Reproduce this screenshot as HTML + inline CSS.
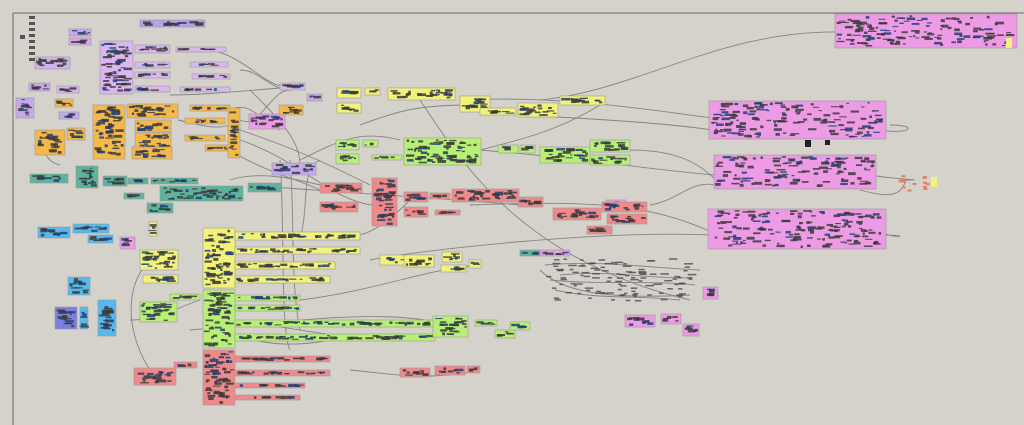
<!DOCTYPE html>
<html><head><meta charset="utf-8"><style>
html,body{margin:0;padding:0;background:#d5d1cb;width:1024px;height:425px;overflow:hidden}
svg{display:block}
</style></head><body>
<svg id="s" width="1024" height="425" viewBox="0 0 1024 425" xmlns="http://www.w3.org/2000/svg">
<rect width="1024" height="425" fill="#d5d1cb"/>
<line x1="13" y1="13" x2="1024" y2="13" stroke="#6a6a6a" stroke-width="1"/>
<line x1="13" y1="13" x2="13" y2="425" stroke="#6a6a6a" stroke-width="1"/>
<g id="wires" fill="none" stroke="#777" stroke-width="0.9" opacity="0.85">
<path d="M540,100 C640,90 720,30 840,32"/>
<path d="M460,100 C560,95 650,110 712,118"/>
<path d="M520,115 C620,120 680,125 712,130"/>
<path d="M480,150 C600,160 650,170 716,175"/>
<path d="M630,150 C680,150 700,165 716,180"/>
<path d="M470,205 C600,200 650,205 712,232"/>
<path d="M650,205 C680,200 690,180 716,185"/>
<path d="M860,190 C880,195 900,200 905,182"/>
<path d="M870,175 C900,180 930,180 905,180"/>
<path d="M420,100 C460,160 520,260 690,300"/>
<path d="M290,160 C295,220 290,280 300,330"/>
<path d="M280,160 C285,220 280,330 290,350"/>
<path d="M240,120 C260,130 270,90 290,90"/>
<path d="M240,70 C260,70 270,90 290,90"/>
<path d="M190,330 C300,320 380,310 435,322"/>
<path d="M370,260 C420,250 600,230 712,235"/>
<path d="M250,185 C300,190 400,195 520,205"/>
<path d="M320,185 C300,180 260,170 230,180"/>
<path d="M130,320 C160,320 170,310 200,300"/>
<path d="M150,260 C120,290 130,340 150,370"/>
<path d="M360,125 C400,110 420,105 470,105"/>
<path d="M300,160 C340,140 360,130 400,140"/>
<path d="M890,125 C920,125 910,135 880,130"/>
<path d="M885,235 C910,235 900,240 880,232"/>
<path d="M540,270 C560,290 600,300 690,295"/>
<path d="M545,265 C600,260 650,268 700,270"/>
<path d="M550,280 C600,285 650,280 695,285"/>
<path d="M555,290 C600,300 640,295 680,300"/>
<path d="M560,275 C610,270 640,278 690,278"/>
<path d="M350,370 C400,375 420,380 470,372"/>
<path d="M230,110 C250,100 260,120 280,130"/>
<path d="M220,330 C250,340 280,350 330,340"/>
<path d="M240,130 C300,150 340,170 370,185"/>
<path d="M240,140 C300,160 330,200 372,205"/>
<path d="M230,150 C260,170 300,180 320,190"/>
<path d="M178,120 C200,125 215,130 230,125"/>
<path d="M170,95 C200,95 230,92 280,88"/>
<path d="M210,50 C240,55 260,80 280,86"/>
<path d="M60,130 C40,140 40,160 60,165"/>
<path d="M300,240 C310,200 300,170 320,160"/>
<path d="M360,235 C380,230 400,210 410,200"/>
<path d="M300,300 C380,290 420,270 480,265"/>
<path d="M235,320 C300,330 360,340 380,340"/>
<path d="M250,90 C280,120 300,140 300,165"/>
<path d="M480,150 C520,140 560,130 600,105"/>
</g>
<g id="grp"></g>
</svg>
<script>
var G=[
[835,14,182,34,'#ee9be6'],[709,101,177,38,'#ee9be6'],[714,155,162,34,'#ee9be6'],[708,209,178,40,'#ee9be6'],
[249,114,36,15,'#ee9be6'],[120,237,15,12,'#ee9be6'],[703,287,15,12,'#ee9be6'],[625,315,30,12,'#ee9be6'],[661,314,20,10,'#ee9be6'],[683,324,16,12,'#ee9be6'],[606,200,20,12,'#ee9be6'],
[140,20,65,7,'#b7a0e8'],[69,29,22,7,'#c8a8ec'],[69,38,22,7,'#e0a2e8'],[100,41,33,53,'#dcb7ef'],[135,45,35,8,'#dcb7ef'],[135,62,35,6,'#dcb7ef'],[135,72,35,6,'#dcb7ef'],[135,86,35,6,'#dcb7ef'],
[35,57,35,12,'#d3b2ec'],[29,83,21,8,'#c8a8ec'],[57,86,22,7,'#dcb7ef'],[16,98,18,20,'#c8a8ec'],[59,112,20,7,'#c8a8ec'],[280,83,25,7,'#dcb7ef'],[307,94,15,7,'#c8a8ec'],[272,163,44,12,'#c8a8ec'],[176,47,50,5,'#dcb7ef'],[190,62,38,5,'#dcb7ef'],[192,74,38,5,'#dcb7ef'],[180,87,50,5,'#dcb7ef'],
[93,105,32,54,'#f4b94a'],[127,104,51,14,'#f4b94a'],[135,120,36,12,'#f4b94a'],[135,133,36,17,'#f4b94a'],[132,147,40,12,'#f4b94a'],[190,105,40,6,'#f4b94a'],[185,118,40,6,'#f4b94a'],[185,135,40,6,'#f4b94a'],[205,145,30,6,'#f4b94a'],[228,108,12,50,'#f4b94a'],[35,130,30,25,'#f4b94a'],[67,128,18,12,'#f4b94a'],[279,105,24,10,'#f4b94a'],[55,99,18,8,'#f4b94a'],
[30,174,38,9,'#5db39b'],[76,166,22,22,'#5db39b'],[103,176,24,10,'#5db39b'],[128,178,20,6,'#5db39b'],[151,178,18,6,'#5db39b'],[168,178,30,6,'#5db39b'],[160,186,83,15,'#5db39b'],[147,203,26,10,'#5db39b'],[248,183,33,9,'#5db39b'],[124,193,20,6,'#5db39b'],
[38,227,32,11,'#55b8ef'],[73,224,36,9,'#55b8ef'],[88,235,25,8,'#55b8ef'],[68,277,22,18,'#55b8ef'],[55,307,22,22,'#7b7fe0'],[80,307,8,22,'#55b8ef'],[98,300,18,36,'#55b8ef'],
[203,228,32,60,'#f2f27a'],[235,232,125,8,'#f2f27a'],[235,247,125,7,'#f2f27a'],[235,262,100,7,'#f2f27a'],[235,276,95,7,'#f2f27a'],[140,250,38,20,'#f2f27a'],[143,275,35,8,'#f2f27a'],[380,255,50,10,'#f2f27a'],[404,255,30,12,'#f2f27a'],[442,252,20,10,'#f2f27a'],[441,265,25,7,'#f2f27a'],[469,260,12,8,'#f2f27a'],[149,222,8,14,'#f2f27a'],
[337,88,24,10,'#f2f27a'],[337,103,24,10,'#f2f27a'],[388,88,67,12,'#f2f27a'],[365,88,15,7,'#f2f27a'],[460,96,30,16,'#f2f27a'],[518,103,40,14,'#f2f27a'],[560,96,45,9,'#f2f27a'],[480,108,36,7,'#f2f27a'],
[203,290,32,58,'#b8f075'],[235,295,65,6,'#b8f075'],[235,305,65,6,'#b8f075'],[235,320,200,7,'#b8f075'],[235,334,200,7,'#b8f075'],[140,302,37,20,'#b8f075'],[170,294,30,6,'#b8f075'],[433,316,35,21,'#b8f075'],[475,320,22,6,'#b8f075'],[495,330,20,8,'#b8f075'],[510,322,20,8,'#b8f075'],
[336,140,23,10,'#b8f075'],[336,154,23,10,'#b8f075'],[404,138,77,27,'#b8f075'],[363,140,15,7,'#b8f075'],[372,155,30,5,'#b8f075'],[498,145,20,8,'#b8f075'],[520,145,15,8,'#b8f075'],[540,147,50,16,'#b8f075'],[590,140,40,12,'#b8f075'],[590,155,40,10,'#b8f075'],
[203,350,32,55,'#f08a8a'],[235,356,95,6,'#f08a8a'],[235,370,95,6,'#f08a8a'],[235,383,70,5,'#f08a8a'],[235,395,65,5,'#f08a8a'],[134,368,42,17,'#f08a8a'],[174,362,23,6,'#f08a8a'],[400,368,30,9,'#f08a8a'],[435,366,30,9,'#f08a8a'],[467,366,13,7,'#f08a8a'],
[320,183,42,10,'#f08a8a'],[320,202,38,10,'#f08a8a'],[372,178,25,48,'#f08a8a'],[404,192,24,10,'#f08a8a'],[404,207,24,10,'#f08a8a'],[430,193,20,6,'#f08a8a'],[452,189,67,13,'#f08a8a'],[435,210,25,5,'#f08a8a'],[518,197,25,10,'#f08a8a'],[553,208,48,12,'#f08a8a'],[602,202,45,10,'#f08a8a'],[607,214,40,10,'#f08a8a'],[587,226,25,8,'#f08a8a'],
[520,250,20,6,'#5db39b'],[540,250,30,6,'#e8a0e0']
];
var g=document.getElementById('grp'),ns='http://www.w3.org/2000/svg';
var seed=7;function r(){seed=(seed*9301+49297)%233280;return seed/233280;}
function R(x,y,w,h,f,o,s){var e=document.createElementNS(ns,'rect');e.setAttribute('x',x);e.setAttribute('y',y);e.setAttribute('width',w);e.setAttribute('height',h);e.setAttribute('fill',f);if(o)e.setAttribute('opacity',o);if(s){e.setAttribute('stroke',s);e.setAttribute('stroke-width','0.6');}g.appendChild(e);}
G.forEach(function(a){R(a[0],a[1],a[2],a[3],a[4],null,'#9a9a9a');
 var big=a[2]*a[3]>2500;
 var n=Math.max(3,Math.floor(a[2]*a[3]/(big?45:28)));
 for(var i=0;i<n;i++){var w=2+r()*7,h=1+r()*2;R(a[0]+1+r()*(a[2]-w-2),a[1]+1+r()*(a[3]-h-2),w,h,r()<0.25?'#1d3f7a':'#3b3b3b',0.85);}
});
for(var i=0;i<110;i++){R(545+r()*150,258+r()*42,3+r()*6,1.5,'#4a4a4a',0.8);}
for(var i=0;i<8;i++){R(29,16+i*6,6,3,'#555');}
R(20,35,5,4,'#555');
for(var i=0;i<14;i++){R(898+r()*30,175+r()*15,4,2,'#e08060');}
R(931,177,6,10,'#f2f27a');R(1006,38,6,10,'#f2f27a');
R(805,140,6,7,'#222');R(825,140,5,5,'#222');
</script>
</body></html>
